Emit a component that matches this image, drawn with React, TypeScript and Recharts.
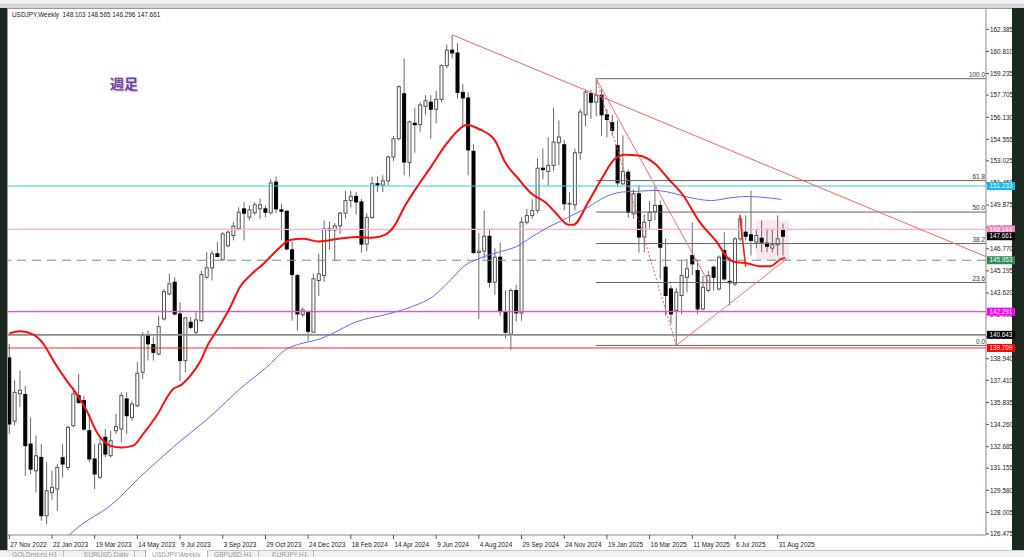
import React from 'react';
import { ComposedChart, Bar, Line, XAxis, YAxis, ReferenceLine, ReferenceArea } from 'recharts';

// Weekly USDJPY candles, index 0 = week of 27 Nov 2022
const openP = [
  139.0, 134.5, 136.45, 136.4, 132.87, 130.97, 131.92, 127.77, 129.43, 129.67,
  131.9, 131.21, 134.18, 136.32, 135.96, 133.82, 131.81, 130.5, 133.35, 132.04,
  133.82, 133.94, 136.08, 134.77, 135.6, 137.98, 140.59, 139.95, 139.28, 141.78,
  143.56, 144.39, 142.13, 138.81, 141.54, 140.83, 141.66, 144.74, 145.41, 146.41,
  145.98, 146.98, 147.71, 148.19, 149.61, 149.02, 149.33, 149.61, 149.61, 149.33,
  151.51, 149.54, 149.44, 146.69, 144.86, 142.08, 142.25, 140.83, 144.51, 144.86,
  148.1, 148.1, 148.4, 149.3, 150.2, 150.5, 150.1, 147.1, 149.0, 151.4,
  151.3, 151.6, 153.3, 154.6, 157.8, 152.9, 155.7, 155.6, 156.9, 157.2,
  156.7, 157.4, 159.8, 160.9, 160.7, 157.9, 157.5, 153.7, 146.5, 146.6,
  147.66, 144.4, 146.17, 142.3, 140.7, 143.8, 142.2, 148.66, 149.14, 149.5,
  152.5, 152.27, 152.7, 154.31, 154.17, 149.97, 149.9, 153.6, 156.3, 157.8,
  157.2, 157.7, 156.3, 155.74, 154.12, 151.39, 152.22, 149.25, 150.68, 147.6,
  148.78, 149.42, 149.85, 145.46, 143.91, 142.37, 143.44, 144.74, 146.29, 145.22,
  142.49, 143.8, 145.46, 143.91, 146.64, 144.45, 144.27, 147.47, 147.95, 147.76,
  147.24, 147.52, 147.17, 146.81, 147.05, 148.103,
];
const highP = [
  140.0, 137.4, 138.1, 137.0, 134.77, 133.5, 132.87, 131.57, 130.97, 131.45,
  132.87, 134.18, 136.9, 137.86, 136.3, 135.01, 132.87, 133.35, 133.94, 133.82,
  135.01, 136.55, 136.55, 135.96, 138.69, 140.83, 140.95, 140.47, 142.01, 143.91,
  144.98, 144.74, 142.96, 141.9, 141.9, 142.25, 145.22, 146.53, 146.64, 147.24,
  147.95, 148.07, 148.66, 149.73, 150.09, 149.85, 150.09, 150.33, 149.85, 151.72,
  151.91, 149.97, 149.49, 147.3, 144.98, 142.6, 142.37, 145.0, 146.41, 148.78,
  148.7, 148.6, 149.4, 150.9, 150.9, 150.8, 150.3, 149.3, 151.9, 151.9,
  152.0, 153.4, 154.8, 158.4, 160.3, 155.9, 156.8, 157.2, 157.7, 157.7,
  158.0, 159.9, 161.3, 162.0, 161.4, 158.5, 157.9, 154.2, 147.9, 149.49,
  148.2, 146.8, 147.2, 143.8, 143.95, 144.2, 149.0, 149.6, 150.3, 153.2,
  153.9, 154.7, 156.8, 155.9, 154.5, 150.8, 153.9, 156.7, 158.1, 158.1,
  158.87, 158.2, 156.7, 156.3, 155.9, 154.83, 152.4, 151.0, 151.3, 149.2,
  150.15, 151.2, 150.2, 147.5, 144.15, 144.0, 145.93, 146.05, 148.66, 146.0,
  144.86, 145.2, 145.57, 146.3, 147.95, 146.17, 147.6, 149.2, 149.14, 150.9,
  148.1, 148.78, 148.19, 148.1, 149.14, 148.565,
];
const lowP = [
  133.6, 134.2, 135.5, 130.6, 130.74, 129.43, 127.41, 127.18, 128.9, 128.13,
  130.5, 131.0, 134.06, 135.72, 133.82, 131.57, 129.67, 130.38, 131.92, 131.92,
  133.59, 132.99, 133.59, 134.54, 135.49, 137.5, 138.81, 138.81, 139.17, 141.66,
  143.44, 142.01, 137.38, 137.98, 141.07, 140.71, 141.54, 144.63, 144.51, 146.17,
  145.93, 146.88, 147.36, 148.07, 147.36, 148.78, 149.14, 148.9, 149.02, 149.2,
  149.3, 147.36, 146.64, 141.65, 140.95, 141.9, 140.23, 140.8, 143.4, 144.4,
  146.7, 145.9, 147.8, 148.9, 149.7, 149.2, 146.5, 146.6, 148.9, 150.8,
  150.8, 151.3, 153.0, 154.5, 152.0, 151.9, 153.6, 155.1, 156.3, 154.6,
  155.7, 157.2, 159.6, 160.3, 157.45, 155.4, 152.0, 146.4, 141.78, 146.05,
  144.0, 143.5, 142.0, 140.4, 139.58, 141.6, 141.65, 148.5, 148.9, 149.3,
  151.7, 151.27, 152.3, 152.7, 149.5, 148.65, 149.5, 153.1, 155.5, 156.0,
  156.2, 154.8, 154.7, 154.8, 151.2, 151.3, 149.0, 148.9, 146.5, 146.5,
  148.2, 148.8, 144.6, 142.0, 141.42, 139.89, 142.13, 143.67, 144.9, 142.1,
  142.37, 143.67, 143.79, 143.8, 144.5, 142.73, 144.1, 147.3, 147.36, 146.29,
  146.8, 146.52, 146.52, 146.5, 146.29, 146.296,
];
const closeP = [
  134.3, 136.55, 136.7, 132.76, 131.09, 132.04, 127.77, 129.55, 129.79, 131.21,
  131.45, 134.06, 136.44, 135.84, 133.94, 131.81, 130.74, 132.87, 132.16, 133.11,
  134.11, 136.32, 134.89, 135.72, 137.91, 140.59, 140.0, 139.4, 141.23, 143.72,
  144.27, 142.13, 138.81, 141.85, 141.18, 141.71, 144.93, 145.41, 146.41, 146.22,
  147.83, 147.95, 148.38, 149.37, 149.3, 149.54, 149.9, 149.9, 149.37, 151.45,
  149.61, 149.44, 146.76, 144.93, 142.13, 142.42, 140.9, 144.63, 144.98, 148.19,
  148.2, 148.4, 149.3, 150.2, 150.5, 150.1, 147.1, 149.0, 151.4, 151.3,
  151.6, 153.3, 154.6, 158.3, 152.94, 155.8, 155.6, 157.0, 157.3, 156.7,
  157.4, 159.8, 160.9, 160.7, 157.9, 157.5, 153.8, 146.5, 146.6, 147.66,
  144.39, 146.17, 142.3, 140.83, 143.8, 142.2, 148.66, 149.14, 149.5, 152.5,
  152.4, 152.7, 154.36, 154.72, 149.97, 150.0, 153.6, 156.5, 157.92, 157.2,
  157.7, 156.3, 155.97, 155.19, 151.46, 152.27, 149.37, 150.68, 147.6, 148.66,
  149.37, 149.85, 146.88, 143.44, 142.13, 143.67, 144.86, 145.34, 145.69, 142.49,
  144.03, 144.86, 144.74, 146.17, 144.62, 144.35, 147.47, 148.9, 147.66, 147.36,
  147.71, 147.24, 146.95, 147.05, 147.47, 147.661,
];

const dateTicks = [0, 8, 16, 24, 32, 40, 48, 56, 64, 72, 80, 88, 96, 104, 112, 120, 128, 136, 144];
const dateLabels = [
  '27 Nov 2022', '22 Jan 2023', '19 Mar 2023', '14 May 2023', '9 Jul 2023', '3 Sep 2023',
  '29 Oct 2023', '24 Dec 2023', '18 Feb 2024', '14 Apr 2024', '9 Jun 2024', '4 Aug 2024',
  '29 Sep 2024', '24 Nov 2024', '19 Jan 2025', '16 Mar 2025', '11 May 2025', '6 Jul 2025', '31 Aug 2025',
];
const priceTicks = [
  162.385, 160.81, 159.235, 157.705, 156.13, 154.555, 153.025, 151.45, 149.875, 148.3,
  146.77, 145.195, 143.62, 142.09, 140.515, 138.94, 137.41, 135.835, 134.26, 132.685,
  131.155, 129.58, 128.005, 126.475,
];

// moving averages: [week index, price]
const redMa: [number, number][] = [
  [0, 140.73], [2, 140.9], [4.5, 140.66], [6.4, 140.0], [8.25, 138.81], [10.75, 137.38], [12.6, 136.44],
  [14.5, 135.25], [16.4, 133.71], [18.9, 132.76], [21, 132.62], [23.2, 132.76], [25.1, 133.59],
  [27.6, 134.89], [30.7, 136.79], [32.3, 137.1], [34.2, 137.86], [35.7, 138.69], [37.3, 140.0],
  [38.9, 140.95], [41.4, 142.61], [43.2, 144.03], [45.1, 144.86], [47.6, 145.69], [50.1, 146.64],
  [52.6, 147.4], [55.1, 147.48], [57.9, 147.29], [61.7, 147.48], [65.4, 147.6], [67.9, 147.55],
  [70.4, 147.76], [72.0, 148.31], [74.2, 149.85], [76.6, 151.27], [79.2, 152.7], [81.7, 154.12],
  [84.1, 155.19], [85.7, 155.6], [87.9, 155.31], [91.0, 154.48], [92.9, 152.94], [95.4, 151.75],
  [97.9, 150.68], [100.4, 150.09], [102.3, 149.37], [104.8, 148.47], [105.7, 148.47], [108.5, 150.09],
  [111.0, 151.75], [113.5, 153.17], [115.4, 153.46], [117.9, 153.41], [121.0, 152.82], [123.5, 151.75],
  [126.3, 150.56], [129.4, 148.66], [132.6, 147.24], [134.8, 146.05], [136.3, 145.81], [138.2, 145.74],
  [140.7, 145.53], [142.6, 145.53], [144.7, 146.05], [145.4, 146.12],
];
const blueMa: [number, number][] = [
  [11.0, 126.34], [13.25, 127.06], [18.9, 128.48], [25.1, 130.74], [31.4, 132.87], [38.2, 135.01],
  [43.2, 136.79], [48.2, 138.33], [52.0, 139.64], [54.5, 140.0], [58.2, 140.35], [60.4, 140.71],
  [64.8, 141.54], [71.0, 142.13], [76.0, 142.73], [79.2, 143.32], [82.3, 144.39], [85.4, 145.58],
  [87.9, 146.05], [91.7, 146.53], [94.8, 146.88], [97.9, 147.6], [101.0, 148.31], [103.2, 148.7],
  [106.0, 149.25], [108.5, 149.73], [111.6, 150.44], [114.7, 150.8], [117.3, 150.85], [121.0, 150.92],
  [124.1, 150.75], [127.2, 150.44], [131.6, 150.2], [134.7, 150.37], [138.5, 150.49], [142.2, 150.39],
  [144.7, 150.28],
];

const fibLabels = ['100.0', '61.8', '50.0', '38.2', '23.6', '0.0'];
const fibPrices = [158.87, 151.62, 149.38, 147.14, 144.37, 139.89];

// horizontal price lines and their tags
const levelPrices = [151.233, 148.144, 145.953, 142.291, 140.643, 139.709];
const tagPrices = [151.233, 148.144, 147.661, 145.953, 142.291, 140.643, 139.709];
const tagTexts = ['151.233', '148.144', '147.661', '145.953', '142.291', '140.643', '139.709'];

const rows = openP.map((o, i) => ({ i, o, h: highP[i], l: lowP[i], c: closeP[i], range: [lowP[i], highP[i]] }));
const redRows = redMa.map(([i, v]) => ({ i, v }));
const blueRows = blueMa.map(([i, v]) => ({ i, v }));

const FONT = '"Liberation Sans", Arial, sans-serif';
const X_DOMAIN: [number, number] = [-0.244, 183.04];
const Y_DOMAIN: [number, number] = [126.4, 163.83];

const levelStyles = [
  { stroke: '#3cc3f2', w: 1, dash: undefined },
  { stroke: '#ffaed6', w: 1.2, dash: undefined },
  { stroke: '#5e9e80', w: 1, dash: '9 6' },
  { stroke: '#ff3cff', w: 1.3, dash: undefined },
  { stroke: '#8c8c8c', w: 1.8, dash: undefined },
  { stroke: '#ff2a2a', w: 1, dash: undefined },
];
const tagColors = ['#17b6ef', '#ff86c3', '#000000', '#2e8b57', '#ff00ff', '#000000', '#ff0000'];

const Candle = (props: any) => {
  const { x, y, width, height, payload } = props;
  if (x == null || y == null || !payload) return null;
  const cx = x + width / 2;
  const top = Math.min(y, y + height);
  const bot = Math.max(y, y + height);
  const hi = payload.h;
  const lo = payload.l;
  const k = hi === lo ? 0 : (bot - top) / (hi - lo);
  const py = (v: number) => top + (hi - v) * k;
  const yo = py(payload.o);
  const yc = py(payload.c);
  const bull = payload.c >= payload.o;
  const bt = Math.min(yo, yc);
  const bh = Math.max(0.8, Math.abs(yo - yc));
  return (
    <g>
      <line x1={cx} x2={cx} y1={top} y2={bot} stroke="#6a6a6a" strokeWidth={1} />
      <rect x={cx - 1.5} y={bt} width={3} height={bh} fill={bull ? '#ffffff' : '#000000'} stroke={bull ? '#555' : '#000'} strokeWidth={1} />
    </g>
  );
};

const XTick = (props: any) => {
  const { x, y, payload } = props;
  const idx = dateTicks.indexOf(payload.value);
  return (
    <text x={x + 1} y={y + 5.5} fontSize={6.4} fill="#222" fontFamily={FONT} textAnchor="start">
      {idx >= 0 ? dateLabels[idx] : ''}
    </text>
  );
};

const YTick = (props: any) => {
  const { x, y, payload } = props;
  return (
    <text x={x} y={y + 2.3} fontSize={6.4} fill="#222" fontFamily={FONT} textAnchor="start">
      {Number(payload.value).toFixed(3)}
    </text>
  );
};

const makeTag = (text: string, bg: string) => (props: any) => {
  const vb = props.viewBox || {};
  const x0 = (vb.x || 0) + (vb.width || 0) + 1;
  const y0 = vb.y || 0;
  return (
    <g>
      <rect x={x0} y={y0 - 4} width={28} height={8} fill={bg} />
      <text x={x0 + 14} y={y0 + 2.2} fontSize={6.3} fill="#ffffff" fontFamily={FONT} textAnchor="middle">{text}</text>
    </g>
  );
};

const makeFibLabel = (text: string) => (props: any) => {
  const vb = props.viewBox || {};
  const xr = (vb.x || 0) + (vb.width || 0) - 1;
  const yy = vb.y || 0;
  return (
    <text x={xr} y={yy - 1.8} fontSize={6.4} fill="#333" fontFamily={FONT} textAnchor="end">{text}</text>
  );
};

const tabs = ['GOLDmicro,H1', 'EURUSD,Daily', 'USDJPY,Weekly', 'GBPUSD,H1', 'EURJPY,H1'];
const tabX = [6, 78, 145, 208, 266];

export default function App() {
  return (
    <div style={{ position: 'absolute', left: 0, top: 0, width: 1024, height: 557, background: '#1b271f', overflow: 'hidden' }}>
      {/* toolbar */}
      <div style={{ position: 'absolute', left: 0, top: 0, width: 1024, height: 4, background: '#eeeeee', borderBottom: '1px solid #cfcfcf' }} />
      <div style={{ position: 'absolute', left: 0, top: 5, width: 1024, height: 3, background: '#d9d9d9' }} />
      {/* chart window */}
      <div style={{ position: 'absolute', left: 7, top: 8, width: 1005, height: 542, background: '#ffffff', borderTop: '1px solid #9a9a9a', borderLeft: '1px solid #9a9a9a', boxSizing: 'border-box' }} />
      <div style={{ position: 'absolute', left: 0, top: 0 }}>
        <ComposedChart width={1024} height={557} data={rows} margin={{ top: 9, left: 8, right: 0, bottom: 0 }}>
          <XAxis
            dataKey="i"
            type="number"
            domain={X_DOMAIN}
            allowDataOverflow
            ticks={dateTicks}
            interval={0}
            height={22}
            tickSize={4}
            tickLine={{ stroke: '#555' }}
            axisLine={{ stroke: '#8a8a8a' }}
            tick={<XTick />}
          />
          <YAxis
            type="number"
            orientation="right"
            domain={Y_DOMAIN}
            allowDataOverflow
            ticks={priceTicks}
            interval={0}
            width={38}
            tickSize={3}
            tickMargin={1}
            tickLine={{ stroke: '#555' }}
            axisLine={{ stroke: '#8a8a8a' }}
            tick={<YTick />}
          />
          <ReferenceArea x1={139.9} x2={146.1} y1={145.95} y2={148.78} fill="#f8e6ec" fillOpacity={1} stroke="none" ifOverflow="hidden" />
          {levelPrices.map((p, k) => (
            <ReferenceLine
              key={'lvl' + k}
              y={p}
              stroke={levelStyles[k].stroke}
              strokeWidth={levelStyles[k].w}
              strokeDasharray={levelStyles[k].dash}
            />
          ))}
          {fibPrices.map((p, k) => (
            <ReferenceLine
              key={'fib' + k}
              segment={[{ x: 110, y: p }, { x: X_DOMAIN[1], y: p }]}
              stroke="#666"
              strokeWidth={1}
              ifOverflow="hidden"
              label={makeFibLabel(fibLabels[k])}
            />
          ))}
          <ReferenceLine segment={[{ x: 83.1, y: 161.98 }, { x: X_DOMAIN[1], y: 146.21 }]} stroke="#ff6262" strokeWidth={1} ifOverflow="hidden" />
          <ReferenceLine segment={[{ x: 110, y: 158.87 }, { x: 131, y: 144.4 }]} stroke="#ff6e6e" strokeWidth={1} ifOverflow="hidden" />
          <ReferenceLine segment={[{ x: 110, y: 158.87 }, { x: 125, y: 139.89 }]} stroke="#ff5050" strokeWidth={1} strokeDasharray="2 2" ifOverflow="hidden" />
          <ReferenceLine segment={[{ x: 125, y: 139.89 }, { x: 145.7, y: 146.05 }]} stroke="#ff7070" strokeWidth={1} ifOverflow="hidden" />
          <ReferenceLine segment={[{ x: 136.9, y: 149.14 }, { x: 138.0, y: 145.5 }]} stroke="#ff1a1a" strokeWidth={1.6} ifOverflow="hidden" />
          <Line data={blueRows} dataKey="v" type="monotone" stroke="#6468ff" strokeWidth={1} dot={false} isAnimationActive={false} />
          <Line data={redRows} dataKey="v" type="monotone" stroke="#ff0d0d" strokeWidth={2} dot={false} isAnimationActive={false} />
          <Bar dataKey="range" barSize={4} isAnimationActive={false} shape={(p: any) => <Candle {...p} />} />
        </ComposedChart>
      </div>
      {/* price tags drawn above the axis labels, same scales */}
      <div style={{ position: 'absolute', left: 0, top: 0 }}>
        <ComposedChart width={1024} height={557} data={rows} margin={{ top: 9, left: 8, right: 38, bottom: 22 }}>
          <XAxis dataKey="i" type="number" domain={X_DOMAIN} allowDataOverflow hide />
          <YAxis type="number" domain={Y_DOMAIN} allowDataOverflow hide />
          {tagPrices.map((p, k) => (
            <ReferenceLine key={'tag' + k} y={p} stroke="none" strokeOpacity={0} label={makeTag(tagTexts[k], tagColors[k])} />
          ))}
        </ComposedChart>
      </div>
      {/* header */}
      <div style={{ position: 'absolute', left: 12, top: 11, fontFamily: FONT, fontSize: 6.4, color: '#222', whiteSpace: 'pre', lineHeight: '8px' }}>
        USDJPY,Weekly  148.103 148.565 146.296 147.661
      </div>
      <div style={{ position: 'absolute', left: 110, top: 75, fontFamily: '"Noto Sans CJK JP", sans-serif', fontSize: 14, fontWeight: 700, color: '#7440a6', textShadow: '1px 1px 2px rgba(90,90,90,0.45)', lineHeight: '16px' }}>
        週足
      </div>
      {/* tabs */}
      <div style={{ position: 'absolute', left: 0, top: 550, width: 1024, height: 7, background: '#f0f0f0', borderTop: '1px solid #c8c8c8' }} />
      {tabs.map((t, k) => (
        <div
          key={t}
          style={{
            position: 'absolute', left: tabX[k], top: 550, height: 8, padding: '0 6px',
            background: k === 2 ? '#ffffff' : 'transparent',
            borderLeft: k === 2 ? '1px solid #aaa' : 'none', borderRight: '1px solid #bbb',
            fontFamily: FONT, fontSize: 6.6, color: '#9a9a9a', lineHeight: '10px', whiteSpace: 'nowrap',
          }}
        >
          {t}
        </div>
      ))}
    </div>
  );
}
